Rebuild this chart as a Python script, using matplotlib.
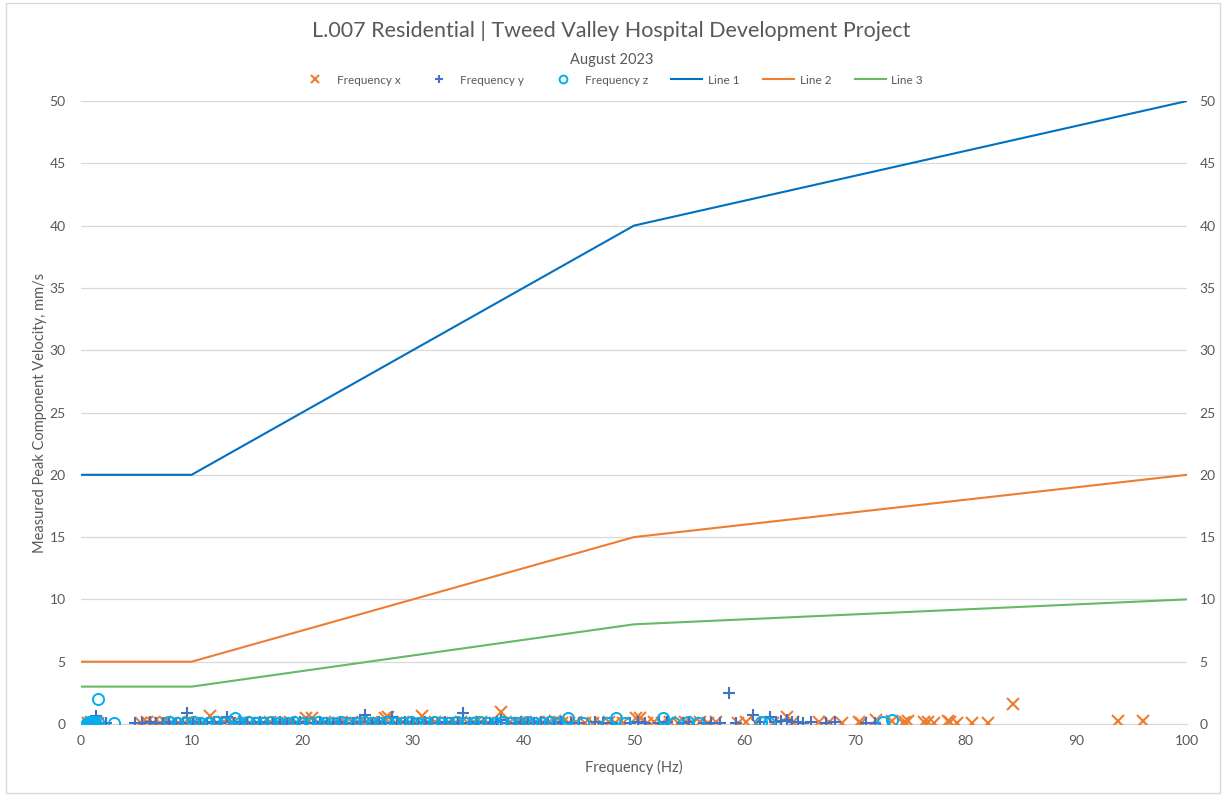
import matplotlib
matplotlib.use("Agg")
import matplotlib.pyplot as plt
from matplotlib.patches import Rectangle

plt.rcParams["font.family"] = ["Lato", "DejaVu Sans"]

TITLE = "L.007 Residential | Tweed Valley Hospital Development Project"
SUBTITLE = "August 2023"

# guideline curves (Hz, mm/s)
LINE_FREQ = [0, 10, 50, 100]
LINE_1 = [20, 20, 40, 50]
LINE_2 = [5, 5, 15, 20]
LINE_3 = [3, 3, 8, 10]

# measured events, x component
FREQ_X = [0.6, 0.9, 1.2, 1.5,
          5.4, 6.0, 6.5, 7.1, 7.6, 8.2, 8.8, 9.3, 9.9, 10.5, 11.0, 11.7, 12.3, 12.9,
          13.5, 14.1, 14.7, 15.3, 15.9, 16.5, 17.1, 17.7, 18.3, 18.9, 19.5, 20.3,
          20.9, 21.5, 22.1, 22.7, 23.3, 23.9, 24.5, 25.1, 25.7, 26.3, 26.9, 27.5,
          27.8, 28.5, 29.1, 29.7, 30.3, 30.8, 31.4, 32.0, 32.6, 33.2, 33.8, 34.4,
          35.0, 35.6, 36.2, 36.8, 37.4, 38.0, 38.7, 39.3, 39.9, 40.5, 41.1, 41.7,
          42.3, 42.9, 43.5, 44.1, 44.8, 45.6, 46.3, 47.0, 47.7, 48.3, 49.0, 50.2,
          50.5, 51.2, 51.8, 52.5, 53.3, 54.0, 54.6, 55.3, 56.0, 56.7, 57.4, 59.4,
          60.1, 61.0, 62.6, 63.8, 64.4, 66.7, 67.6, 68.8, 70.3, 70.5, 71.9, 73.3,
          74.3, 74.5, 74.8, 76.2, 76.6, 77.1, 78.4, 78.6, 79.2, 80.6, 82.0, 84.3,
          93.8, 96.0]
VEL_X = [0.1, 0.15, 0.1, 0.05,
         0.1, 0.15, 0.1, 0.1, 0.15, 0.1, 0.05, 0.1, 0.15, 0.1, 0.1, 0.65, 0.1, 0.15,
         0.1, 0.1, 0.15, 0.1, 0.05, 0.1, 0.15, 0.1, 0.1, 0.15, 0.1, 0.45,
         0.45, 0.1, 0.15, 0.1, 0.1, 0.05, 0.15, 0.1, 0.1, 0.15, 0.1, 0.45,
         0.55, 0.1, 0.15, 0.1, 0.1, 0.65, 0.1, 0.15, 0.1, 0.05, 0.1, 0.15,
         0.1, 0.1, 0.15, 0.1, 0.1, 0.95, 0.1, 0.15, 0.1, 0.1, 0.2, 0.1,
         0.15, 0.25, 0.1, 0.1, 0.15, 0.1, 0.05, 0.1, 0.15, 0.1, 0.1, 0.5,
         0.45, 0.1, 0.15, 0.1, 0.2, 0.1, 0.15, 0.1, 0.2, 0.1, 0.15, 0.1,
         0.15, 0.1, 0.1, 0.6, 0.2, 0.2, 0.15, 0.12, 0.2, 0.1, 0.3, 0.27,
         0.1, 0.19, 0.27, 0.18, 0.15, 0.1, 0.24, 0.2, 0.1, 0.1, 0.1, 1.6,
         0.24, 0.24]

# measured events, y component
FREQ_Y = [0.5, 0.8, 1.1, 1.4, 1.6, 2.3,
          4.9, 5.5, 6.2, 6.8, 7.4, 8.0, 8.6, 9.2, 9.6, 10.1, 10.8, 11.4, 12.0, 12.6,
          13.2, 13.8, 14.4, 15.0, 15.6, 16.2, 16.8, 17.4, 18.0, 18.6, 19.2, 19.8,
          20.4, 21.0, 21.6, 22.2, 22.8, 23.4, 24.0, 24.6, 25.2, 25.7, 26.3, 26.9,
          27.5, 28.1, 28.6, 29.3, 29.9, 30.5, 31.1, 31.7, 32.3, 32.9, 33.5, 34.1,
          34.5, 35.2, 35.8, 36.4, 37.0, 37.6, 38.0, 38.6, 39.2, 39.8, 40.4, 41.0,
          41.6, 42.2, 42.8, 43.4, 44.3, 45.0, 46.5, 47.2, 48.0, 49.6, 50.4, 51.0,
          52.3, 53.0, 54.4, 55.0, 56.3, 57.0, 57.8, 58.6, 59.2, 60.8, 61.4, 62.3,
          62.8, 63.3, 63.8, 64.3, 64.8, 65.3, 66.0, 67.4, 68.2, 71.0, 71.8]
VEL_Y = [0.1, 0.15, 0.1, 0.65, 0.1, 0.05,
         0.1, 0.1, 0.15, 0.1, 0.1, 0.15, 0.1, 0.1, 0.9, 0.15, 0.1, 0.1, 0.15, 0.1,
         0.6, 0.1, 0.15, 0.1, 0.1, 0.15, 0.1, 0.1, 0.15, 0.1, 0.1, 0.15,
         0.1, 0.1, 0.15, 0.1, 0.1, 0.15, 0.1, 0.1, 0.15, 0.75, 0.1, 0.15,
         0.1, 0.6, 0.1, 0.15, 0.1, 0.1, 0.15, 0.1, 0.1, 0.15, 0.1, 0.1,
         0.85, 0.1, 0.15, 0.1, 0.1, 0.15, 0.3, 0.1, 0.1, 0.15, 0.1, 0.1,
         0.15, 0.1, 0.1, 0.15, 0.1, 0.1, 0.15, 0.1, 0.05, 0.1, 0.15, 0.1,
         0.1, 0.15, 0.1, 0.15, 0.1, 0.1, 0.1, 2.5, 0.05, 0.7, 0.2, 0.55,
         0.15, 0.25, 0.35, 0.2, 0.15, 0.1, 0.15, 0.05, 0.15, 0.05, 0.1]

# measured events, z component
FREQ_Z = [0.5, 0.7, 0.9, 1.1, 1.3, 1.5, 1.5, 3.0,
          8.0, 8.7, 9.4, 10.1, 10.8, 11.5, 12.2, 12.9, 13.9, 14.4, 15.1, 15.8,
          16.5, 17.2, 17.9, 18.6, 19.3, 20.0, 20.7, 21.4, 22.1, 22.8, 23.5, 24.2,
          24.9, 25.6, 26.3, 27.0, 27.7, 28.4, 29.1, 29.8, 30.5, 31.2, 31.9, 32.6,
          33.3, 34.0, 34.7, 35.4, 36.1, 36.8, 37.5, 38.2, 38.9, 39.6, 40.3, 41.0,
          41.7, 42.4, 43.0, 44.0, 45.4, 47.6, 48.4, 49.2, 52.6, 53.6, 54.9, 55.8,
          61.5, 62.2, 72.5, 73.3]
VEL_Z = [0.1, 0.15, 0.1, 0.2, 0.1, 0.15, 2.0, 0.05,
         0.15, 0.1, 0.1, 0.15, 0.1, 0.1, 0.15, 0.1, 0.45, 0.1, 0.15, 0.1,
         0.1, 0.15, 0.1, 0.1, 0.15, 0.1, 0.1, 0.15, 0.1, 0.1, 0.15, 0.1,
         0.1, 0.15, 0.1, 0.1, 0.15, 0.1, 0.1, 0.15, 0.1, 0.1, 0.15, 0.1,
         0.1, 0.15, 0.1, 0.1, 0.15, 0.1, 0.1, 0.15, 0.1, 0.1, 0.15, 0.1,
         0.1, 0.15, 0.1, 0.45, 0.05, 0.05, 0.5, 0.05, 0.5, 0.05, 0.2, 0.05,
         0.2, 0.1, 0.13, 0.3]

GREY = "#595959"
GRID = "#d9d9d9"

fig = plt.figure(figsize=(12.23, 7.96), dpi=100)
ax = fig.add_axes([81 / 1223, 72 / 796, 1106 / 1223, 623 / 796])

ax.plot(FREQ_X, VEL_X, ls="none", marker="x", ms=8, mew=1.5, color="#ED7D31",
        label="Frequency x", zorder=3)
ax.plot(FREQ_Y, VEL_Y, ls="none", marker="+", ms=9, mew=1.5, color="#4472C4",
        label="Frequency y", zorder=4)
ax.plot(FREQ_Z, VEL_Z, ls="none", marker="o", ms=8, mew=1.4, mfc="none",
        color="#00B0F0", label="Frequency z", zorder=5)
ax.plot(LINE_FREQ, LINE_1, color="#0070C0", lw=1.5, label="Line 1", zorder=2)
ax.plot(LINE_FREQ, LINE_2, color="#ED7D31", lw=1.5, label="Line 2", zorder=2)
ax.plot(LINE_FREQ, LINE_3, color="#66B966", lw=1.5, label="Line 3", zorder=2)

ax.set_xlim(0, 100)
ax.set_ylim(0, 50)
ax.set_xticks(range(0, 101, 10))
ax.set_yticks(range(0, 51, 5))
ax.grid(axis="y", color=GRID, lw=0.9)
ax.set_axisbelow(True)
for side in ("top", "left", "right"):
    ax.spines[side].set_visible(False)
ax.spines["bottom"].set_color(GRID)
ax.tick_params(axis="both", length=0, labelsize=10, labelcolor=GREY)
ax.tick_params(axis="y", pad=11)
ax.tick_params(axis="x", pad=8)
ax.set_xlabel("Frequency (Hz)", fontsize=10.5, color=GREY, labelpad=9)
ax.set_ylabel("Measured Peak Component Velocity, mm/s", fontsize=10.5,
              color=GREY, labelpad=2)

ax2 = ax.twinx()
ax2.set_ylim(0, 50)
ax2.set_yticks(range(0, 51, 5))
for side in ("top", "left", "right", "bottom"):
    ax2.spines[side].set_visible(False)
ax2.tick_params(axis="y", length=0, labelsize=10, labelcolor=GREY, pad=9)

fig.text(0.5, 1 - 31 / 796, TITLE, ha="center", va="center", fontsize=15.5,
         color=GREY)
fig.text(0.5, 1 - 60 / 796, SUBTITLE, ha="center", va="center", fontsize=10.5,
         color=GREY)
fig.legend(loc="center", bbox_to_anchor=(0.5, 1 - 80 / 796), ncol=6,
           frameon=False, fontsize=8.5, labelcolor=GREY, handlelength=2.6,
           columnspacing=2.0, handletextpad=0.5, markerscale=0.7)

fig.add_artist(Rectangle((6 / 1223, 3 / 796), 1 - 9 / 1223, 1 - 6 / 796,
                         transform=fig.transFigure, fill=False,
                         edgecolor=GRID, lw=1))

fig.savefig("out.png", dpi=100)
